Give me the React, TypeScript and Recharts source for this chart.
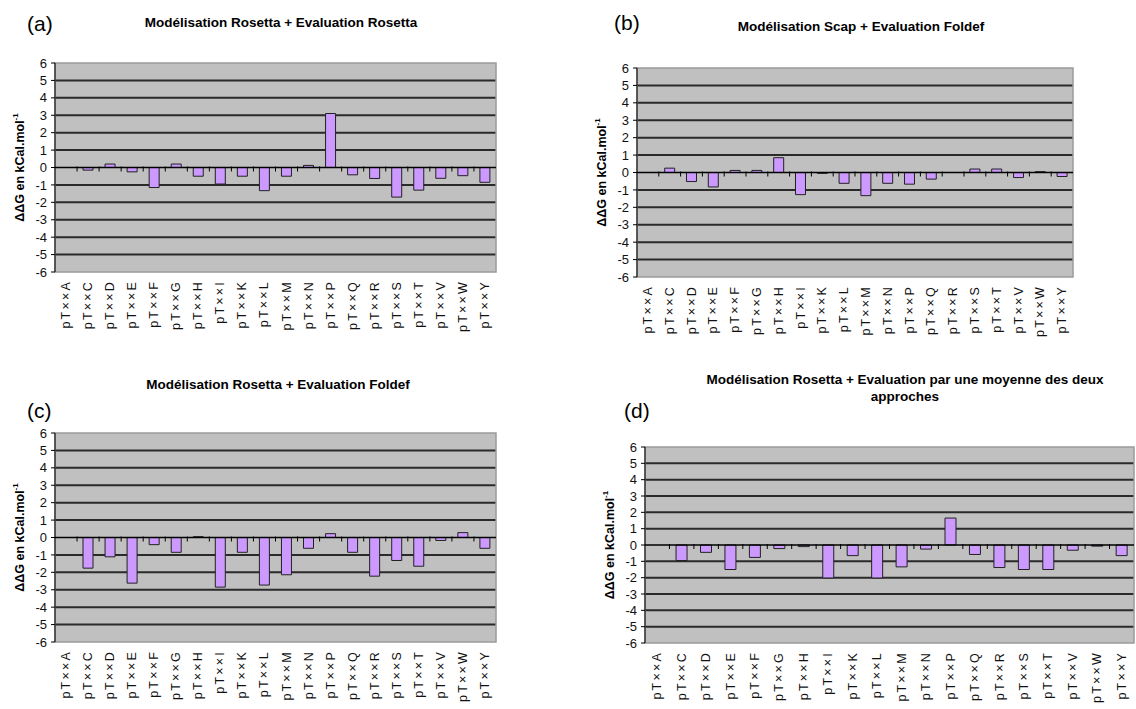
import React from 'react';
import { BarChart, Bar, XAxis, YAxis, CartesianGrid, ReferenceLine, ReferenceArea } from 'recharts';

const categories = ['A', 'C', 'D', 'E', 'F', 'G', 'H', 'I', 'K', 'L', 'M', 'N', 'P', 'Q', 'R', 'S', 'T', 'V', 'W', 'Y'];
const tickLabels = categories.map((c) => `pT××${c}`);

const rosettaRosetta = [0, -0.15, 0.2, -0.25, -1.15, 0.2, -0.5, -0.95, -0.5, -1.33, -0.5, 0.12, 3.1, -0.42, -0.63, -1.7, -1.3, -0.62, -0.47, -0.85];
const scapFoldef = [0, 0.25, -0.52, -0.83, 0.12, 0.12, 0.85, -1.27, -0.05, -0.62, -1.33, -0.62, -0.67, -0.38, 0, 0.2, 0.2, -0.29, 0.05, -0.23];
const rosettaFoldef = [0, -1.76, -1.11, -2.62, -0.41, -0.85, 0.05, -2.85, -0.85, -2.73, -2.14, -0.62, 0.22, -0.85, -2.22, -1.32, -1.65, -0.17, 0.28, -0.62];
const moyenne = [0, -0.95, -0.45, -1.5, -0.76, -0.22, -0.1, -2.02, -0.65, -2.02, -1.34, -0.25, 1.65, -0.58, -1.38, -1.5, -1.5, -0.32, -0.07, -0.65];

const yTicks = [-6, -5, -4, -3, -2, -1, 0, 1, 2, 3, 4, 5, 6];
const gridValues = [-5, -4, -3, -2, -1, 1, 2, 3, 4, 5];

const FONT = '"Liberation Sans", Arial, sans-serif';

const buildData = (values: number[]) => tickLabels.map((label, i) => ({ label, value: values[i] }));

const XTick = (props: any) => {
  const { x, y, payload } = props;
  return (
    <text
      x={x}
      y={y + 8}
      transform={`rotate(-90, ${x}, ${y + 8})`}
      textAnchor="end"
      dominantBaseline="central"
      fontSize={12.5}
      fontFamily={FONT}
      fill="#111"
      letterSpacing={2.2}
    >
      {payload.value}
    </text>
  );
};

const ZeroAxis = (props: any) => {
  const { x1, x2, y1 } = props;
  if (x1 == null) return null;
  const n = categories.length;
  const step = (x2 - x1) / n;
  const ticks = [];
  for (let i = 1; i < n; i++) {
    const xx = x1 + i * step;
    ticks.push(<line key={i} x1={xx} x2={xx} y1={y1 - 1} y2={y1 + 4} stroke="#000" strokeWidth={1} />);
  }
  return (
    <g>
      <line x1={x1} y1={y1} x2={x2} y2={y1} stroke="#000" strokeWidth={1.3} />
      {ticks}
    </g>
  );
};

const YLabel = (props: any) => {
  const vb = props.viewBox || {};
  const cx = vb.x + vb.width - 35;
  const cy = vb.y + vb.height / 2;
  return (
    <text
      x={cx}
      y={cy}
      transform={`rotate(-90, ${cx}, ${cy})`}
      textAnchor="middle"
      dominantBaseline="central"
      fontSize={12.5}
      fontWeight="bold"
      fontFamily={FONT}
      fill="#000"
    >
      ΔΔG en kCal.mol
      <tspan fontSize={8} dy={-5}>-1</tspan>
    </text>
  );
};

type PanelProps = {
  values: number[];
  left: number;
  top: number;
  width: number;
  height: number;
  margin: { top: number; right: number; bottom: number; left: number };
  yWidth: number;
  xHeight: number;
};

const Panel = ({ values, left, top, width, height, margin, yWidth, xHeight }: PanelProps) => (
  <div style={{ position: 'absolute', left, top }}>
    <BarChart width={width} height={height} data={buildData(values)} margin={margin} barCategoryGap="27%">
      <CartesianGrid
        horizontal={true}
        vertical={false}
        horizontalValues={gridValues}
        stroke="#2a2a2a"
        strokeWidth={2}
        fill="#C0C0C0"
        fillOpacity={1}
      />
      <ReferenceArea y1={-6} y2={6} fill="none" stroke="#9a9a9a" strokeWidth={1.5} ifOverflow="visible" />
      <XAxis
        dataKey="label"
        interval={0}
        tick={<XTick />}
        tickLine={false}
        axisLine={false}
        tickSize={0}
        tickMargin={0}
        height={xHeight}
      />
      <YAxis
        type="number"
        domain={[-6, 6]}
        ticks={yTicks}
        interval={0}
        width={yWidth}
        axisLine={{ stroke: '#000', strokeWidth: 1 }}
        tickLine={{ stroke: '#000', strokeWidth: 1 }}
        tickSize={4}
        tickMargin={4}
        tick={{ fontSize: 13, fontFamily: FONT, fill: '#111' }}
        label={<YLabel />}
      />
      <Bar dataKey="value" fill="#CC99FF" stroke="#222" strokeWidth={1} isAnimationActive={false} />
      <ReferenceLine y={0} shape={<ZeroAxis />} ifOverflow="visible" />
    </BarChart>
  </div>
);

const titleStyle: React.CSSProperties = {
  position: 'absolute',
  fontFamily: FONT,
  fontWeight: 'bold',
  fontSize: 13.5,
  color: '#000',
  whiteSpace: 'nowrap',
  transform: 'translateX(-50%)',
  textAlign: 'center',
  lineHeight: '28px',
};

const tagStyle: React.CSSProperties = {
  position: 'absolute',
  fontFamily: FONT,
  fontSize: 21,
  color: '#000',
  lineHeight: '22px',
};

export default function App() {
  return (
    <div style={{ position: 'absolute', left: 0, top: 0, width: 1136, height: 709, background: '#fff', overflow: 'hidden' }}>
      <div style={{ ...tagStyle, left: 27, top: 13 }}>(a)</div>
      <div style={{ ...titleStyle, left: 281, top: 9 }}>Modélisation Rosetta + Evaluation Rosetta</div>
      <Panel
        values={rosettaRosetta}
        left={0}
        top={0}
        width={568}
        height={350}
        margin={{ top: 63, right: 72, bottom: 16, left: 0 }}
        yWidth={55}
        xHeight={62}
      />

      <div style={{ ...tagStyle, left: 614, top: 12 }}>(b)</div>
      <div style={{ ...titleStyle, left: 861, top: 13 }}>Modélisation Scap + Evaluation Foldef</div>
      <Panel
        values={scapFoldef}
        left={580}
        top={0}
        width={556}
        height={350}
        margin={{ top: 68, right: 63, bottom: 11, left: 0 }}
        yWidth={57}
        xHeight={62}
      />

      <div style={{ ...tagStyle, left: 27, top: 400 }}>(c)</div>
      <div style={{ ...titleStyle, left: 278, top: 371 }}>Modélisation Rosetta + Evaluation Foldef</div>
      <Panel
        values={rosettaFoldef}
        left={0}
        top={370}
        width={568}
        height={339}
        margin={{ top: 63, right: 72, bottom: 5, left: 0 }}
        yWidth={55}
        xHeight={62}
      />

      <div style={{ ...tagStyle, left: 624, top: 400 }}>(d)</div>
      <div style={{ ...titleStyle, left: 905, top: 371, lineHeight: '17px' }}>
        Modélisation Rosetta + Evaluation par une moyenne des deux
        <br />
        approches
      </div>
      <Panel
        values={moyenne}
        left={588}
        top={370}
        width={548}
        height={339}
        margin={{ top: 77, right: 2, bottom: 0, left: 0 }}
        yWidth={57}
        xHeight={66}
      />
    </div>
  );
}
